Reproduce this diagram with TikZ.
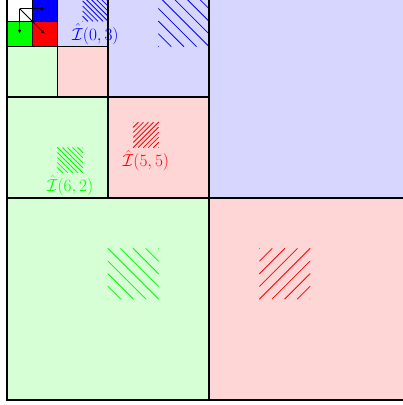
\documentclass[tikz,border=0pt]{standalone}
\usetikzlibrary{arrows.meta}
\definecolor{lgreen}{RGB}{214,255,214}
\definecolor{lred}{RGB}{255,214,214}
\definecolor{lblue}{RGB}{214,214,255}
\newcommand\hatchNW[5]{%
  \foreach \k in {0,...,#4} {\draw[#5,hatchline] ({#1+\k*#3/#4},{#2}) -- ({#1+#3},{#2+#3-\k*#3/#4});}
  \foreach \k in {1,...,#4} {\draw[#5,hatchline] ({#1},{#2+\k*#3/#4}) -- ({#1+#3-\k*#3/#4},{#2+#3});}
}
\newcommand\hatchNE[5]{%
  \foreach \k in {0,...,#4} {\draw[#5,hatchline] ({#1+\k*#3/#4},{#2+#3}) -- ({#1+#3},{#2+\k*#3/#4});}
  \foreach \k in {1,...,#4} {\draw[#5,hatchline] ({#1},{#2+#3-\k*#3/#4}) -- ({#1+#3-\k*#3/#4},{#2});}
}
\begin{document}
\begin{tikzpicture}[x=1pt,y=-1pt,
  border/.style={draw=black,line width=1.3pt},
  hatchline/.style={line width=0.8pt,line cap=round},
  tinysq/.style={draw=black,line width=1.3pt,minimum size=25.25pt,inner sep=0pt,outer sep=0pt},
  lbl/.style={font=\fontsize{16.5}{19}\selectfont,inner sep=0pt,anchor=north},
  arr/.style={black,line width=0.8pt,-{Latex[length=4pt,width=3.5pt]}}]
\useasboundingbox (0,0) rectangle (403,405);
\clip (0,0) rectangle (403,405);
% level 1 fills
\fill[lblue] (209,-4) rectangle (411,198);
\fill[lgreen] (7,198) rectangle (209,400);
\fill[lred] (209,198) rectangle (411,400);
% level 2 fills
\fill[lblue] (108,-4) rectangle (209,97);
\fill[lgreen] (7,97) rectangle (108,198);
\fill[lred] (108,97) rectangle (209,198);
% level 3 fills
\fill[lblue] (57.5,-4) rectangle (108,46.5);
\fill[lgreen] (7,46.5) rectangle (57.5,97);
\fill[lred] (57.5,46.5) rectangle (108,97);
% hatches
\hatchNW{82.75}{-4}{25.25}{5}{blue}
\hatchNW{158.5}{-4}{50.5}{4}{blue}
\hatchNW{57.5}{147.5}{25.25}{5}{green}
\hatchNE{133.25}{122.25}{25.25}{5}{red}
\hatchNW{108}{248.5}{50.5}{4}{green}
\hatchNE{259.5}{248.5}{50.5}{4}{red}
% borders
\draw[border] (7,-4) rectangle (411,400);
\draw[border] (7,198) -- (411,198) (209,-4) -- (209,400);
\draw[border] (7,97) -- (209,97) (108,-4) -- (108,198);
\draw[border] (7,46.5) -- (108,46.5) (57.5,-4) -- (57.5,97);
% level 4 squares
\node[tinysq,fill=white] (w) at (19.625,8.625) {};
\node[tinysq,fill=blue] (b) at (44.875,8.625) {};
\node[tinysq,fill=green] (g) at (19.625,33.875) {};
\node[tinysq,fill=red] (r) at (44.875,33.875) {};
% arrows
\draw[arr] (w.center) -- (b.center);
\draw[arr] (w.center) -- (g.center);
\draw[arr] (w.center) -- (r.center);
% labels
\node[lbl,text=blue] (l03) at (95.4,23.5) {$\hat{\mathcal{I}}(0,3)$};
\node[lbl,text=green] (l62) at (70.1,175) {$\hat{\mathcal{I}}(6,2)$};
\node[lbl,text=red] (l55) at (145.9,150) {$\hat{\mathcal{I}}(5,5)$};
\end{tikzpicture}
\end{document}
